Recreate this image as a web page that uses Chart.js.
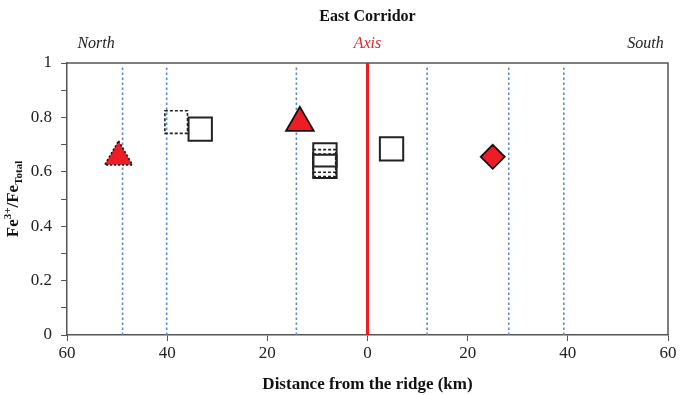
<!DOCTYPE html>
<html>
<head>
<meta charset="utf-8">
<script src="https://cdn.jsdelivr.net/npm/chart.js@4"></script>
<style>
  html, body { margin: 0; padding: 0; background: #fff; overflow: hidden; }
</style>
</head>
<body>
<canvas id="chart" width="680" height="395"></canvas>
<script>
// distances (km, north negative) of the dotted sample lines
const lineKm = [-48.9, -40.1, -14.2, 11.9, 28.2, 39.2];
const axisKm = 0;

// open squares, solid outline
const solidSqX = [-33.4, -8.5, -8.5, 4.8];
const solidSqY = [0.757, 0.662, 0.620, 0.684];
// open squares, dashed outline
const dashSqX = [-38.2, -8.6, -8.6];
const dashSqY = [0.783, 0.640, 0.624];
// red triangles
const triX = [-13.5];
const triY = [0.78];
const dotTriX = [-49.7];
const dotTriY = [0.655];
// red diamond
const diaX = [25];
const diaY = [0.655];

const xTicks = [-60, -40, -20, 0, 20, 40, 60];
const sideLabels = [
    { text: 'North', km: -54.2, color: '#222' },
    { text: 'Axis', km: 0, color: '#e8262b' },
    { text: 'South', km: 55.5, color: '#222' }
];

const RED = '#ee1d25';
const BLUE = '#5b8cd2';
const SERIF = '"Liberation Serif", "DejaVu Serif", serif';

const pts = (xs, ys) => xs.map((x, i) => ({ x: x, y: ys[i] }));

const datasets = [];

// dotted vertical lines
lineKm.forEach(k => {
    datasets.push({
        type: 'line',
        data: [{ x: k, y: 0 }, { x: k, y: 0.985 }],
        borderColor: BLUE,
        borderWidth: 1.6,
        borderDash: [2.5, 2.5],
        pointRadius: 0,
        order: 10
    });
});
// ridge axis
datasets.push({
    type: 'line',
    data: [{ x: axisKm, y: 0 }, { x: axisKm, y: 1 }],
    borderColor: RED,
    borderWidth: 3,
    pointRadius: 0,
    order: 9
});

datasets.push({
    data: pts(dashSqX, dashSqY),
    pointStyle: 'rect',
    pointRadius: 16,
    backgroundColor: 'rgba(255,255,255,0)',
    borderColor: '#222',
    borderWidth: 1.6,
    dashedPoints: [3, 2],
    order: 5
});
datasets.push({
    data: pts(solidSqX, solidSqY),
    pointStyle: 'rect',
    pointRadius: 16.5,
    backgroundColor: 'rgba(255,255,255,0)',
    borderColor: '#222',
    borderWidth: 2,
    order: 4
});
datasets.push({
    data: pts(dotTriX, dotTriY),
    pointStyle: 'triangle',
    pointRadius: 16,
    backgroundColor: RED,
    borderColor: '#111',
    borderWidth: 1.6,
    dashedPoints: [2, 2],
    order: 3
});
datasets.push({
    data: pts(triX, triY),
    pointStyle: 'triangle',
    pointRadius: 16,
    backgroundColor: RED,
    borderColor: '#111',
    borderWidth: 1.8,
    order: 2
});
datasets.push({
    data: pts(diaX, diaY),
    pointStyle: 'rectRot',
    pointRadius: 12,
    backgroundColor: RED,
    borderColor: '#111',
    borderWidth: 1.8,
    order: 1
});

// dashed outlines for point markers
const dashPlugin = {
    id: 'dashPoints',
    beforeDatasetDraw(chart, args) {
        const d = chart.data.datasets[args.index];
        chart.ctx.save();
        if (d.dashedPoints) chart.ctx.setLineDash(d.dashedPoints);
    },
    afterDatasetDraw(chart) {
        chart.ctx.restore();
    }
};

// frame, titles and y label
const decoPlugin = {
    id: 'deco',
    afterDraw(chart) {
        const ctx = chart.ctx;
        const a = chart.chartArea;
        const xs = chart.scales.x;
        ctx.save();
        ctx.strokeStyle = '#555';
        ctx.lineWidth = 1.5;
        ctx.beginPath();
        ctx.moveTo(a.left, a.top);
        ctx.lineTo(a.right, a.top);
        ctx.lineTo(a.right, a.bottom);
        ctx.stroke();

        ctx.textAlign = 'center';
        ctx.textBaseline = 'middle';
        ctx.fillStyle = '#111';
        ctx.font = 'bold 16px ' + SERIF;
        ctx.fillText('East Corridor', (a.left + a.right) / 2, 17);

        ctx.font = 'italic 16px ' + SERIF;
        sideLabels.forEach(l => {
            ctx.fillStyle = l.color;
            ctx.fillText(l.text, xs.getPixelForValue(l.km), 44);
        });

        // Fe3+/FeTotal, rotated
        ctx.translate(14, (a.top + a.bottom) / 2);
        ctx.rotate(-Math.PI / 2);
        ctx.fillStyle = '#111';
        const parts = [
            { t: 'Fe', f: 'bold 17px ', dy: 0 },
            { t: '3+', f: 'bold 11px ', dy: -6 },
            { t: '/Fe', f: 'bold 17px ', dy: 0 },
            { t: 'Total', f: 'bold 11px ', dy: 5 }
        ];
        let total = 0;
        parts.forEach(p => { ctx.font = p.f + SERIF; total += ctx.measureText(p.t).width; });
        let x = -total / 2;
        ctx.textAlign = 'left';
        parts.forEach(p => {
            ctx.font = p.f + SERIF;
            ctx.fillText(p.t, x, p.dy);
            x += ctx.measureText(p.t).width;
        });
        ctx.restore();
    }
};

new Chart(document.getElementById('chart'), {
    type: 'scatter',
    data: { datasets: datasets },
    options: {
        responsive: false,
        animation: false,
        events: [],
        layout: {
            autoPadding: false, // big markers would otherwise push the plot edges in
            padding: { top: 63, left: 30, right: 12, bottom: 0 }
        },
        plugins: {
            legend: { display: false },
            tooltip: { enabled: false },
            title: { display: false }
        },
        scales: {
            x: {
                type: 'linear',
                min: -60,
                max: 60,
                afterBuildTicks(scale) { scale.ticks = xTicks.map(v => ({ value: v })); },
                afterFit(scale) {
                    scale.height = 60;
                    scale.paddingLeft = 0;
                    scale.paddingRight = 0;
                },
                ticks: {
                    callback: v => Math.abs(v),
                    font: { family: SERIF, size: 17 },
                    color: '#222',
                    padding: 2,
                    maxRotation: 0
                },
                grid: { display: true, drawOnChartArea: false, drawTicks: true, tickLength: 6, color: '#555' },
                border: { display: true, color: '#555', width: 1.5 },
                title: {
                    display: true,
                    text: 'Distance from the ridge (km)',
                    font: { family: SERIF, size: 17, weight: 'bold' },
                    color: '#111',
                    padding: { top: 6, bottom: 0 }
                }
            },
            y: {
                min: 0,
                max: 1,
                ticks: {
                    stepSize: 0.1,
                    callback: v => {
                        const r = Math.round(v * 10);
                        return r % 2 === 0 ? String(r / 10) : '';
                    },
                    font: { family: SERIF, size: 17 },
                    color: '#222',
                    padding: 9
                },
                afterFit(scale) {
                    scale.width = 37;
                    scale.paddingTop = 0;
                    scale.paddingBottom = 0;
                },
                grid: { display: true, drawOnChartArea: false, drawTicks: true, tickLength: 6, color: '#555' },
                border: { display: true, color: '#555', width: 1.5 }
            }
        }
    },
    plugins: [dashPlugin, decoPlugin]
});
</script>
</body>
</html>
